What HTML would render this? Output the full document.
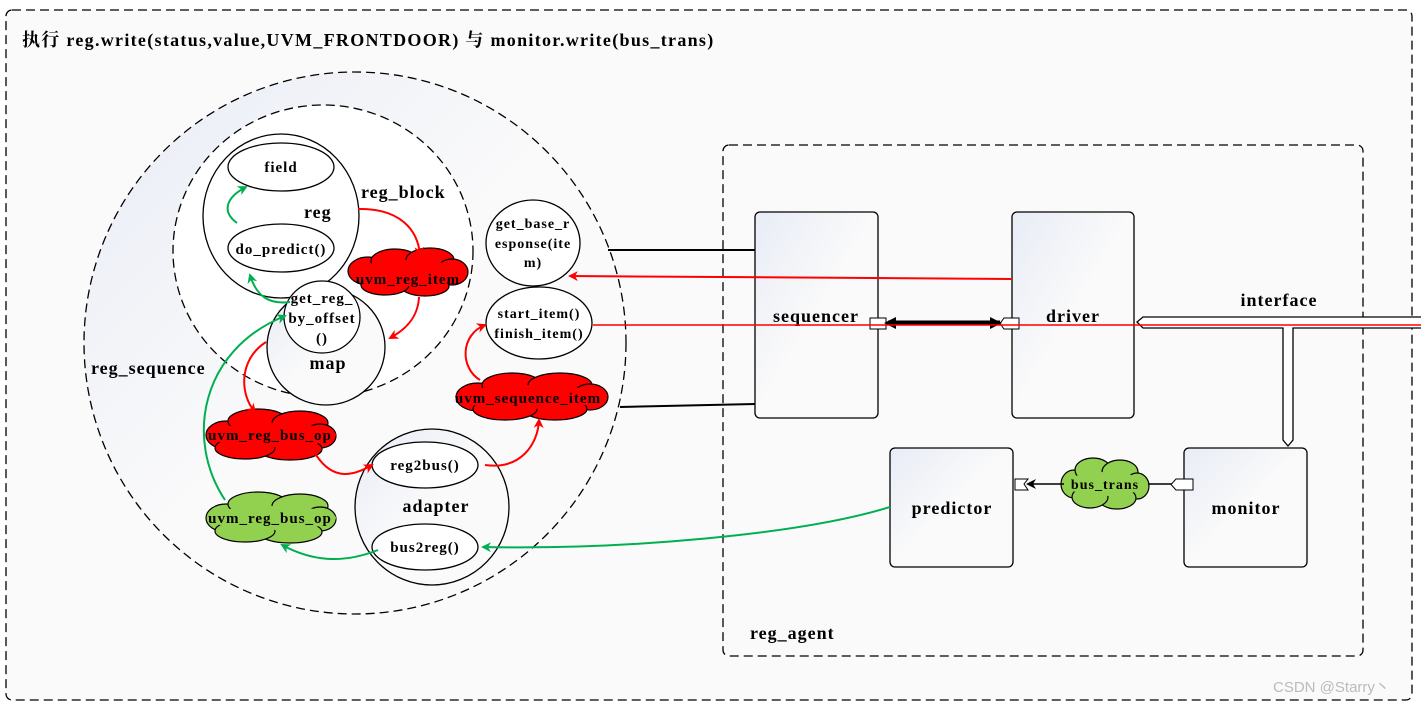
<!DOCTYPE html>
<html><head><meta charset="utf-8"><style>
html,body{margin:0;padding:0;background:#fff;}
svg{display:block;}
text{font-family:"Liberation Serif","Noto Serif CJK SC",serif;font-weight:bold;fill:#000;letter-spacing:1px;}
</style></head><body>
<svg width="1421" height="706" viewBox="0 0 1421 706" xmlns="http://www.w3.org/2000/svg">
<defs>
<linearGradient id="g" x1="0" y1="0" x2="1" y2="1"><stop offset="0" stop-color="#e8ecf6"/><stop offset="0.5" stop-color="#fafafa"/><stop offset="1" stop-color="#fafafa"/></linearGradient>
<marker id="ar" markerWidth="10" markerHeight="10" refX="8" refY="5" orient="auto" markerUnits="userSpaceOnUse"><path d="M0,0 L10,5 L0,10 L3,5 z" fill="#f00"/></marker>
<marker id="ag" markerWidth="10" markerHeight="10" refX="8" refY="5" orient="auto" markerUnits="userSpaceOnUse"><path d="M0,0 L10,5 L0,10 L3,5 z" fill="#00b050"/></marker>
<marker id="ak" markerWidth="10" markerHeight="10" refX="8" refY="5" orient="auto" markerUnits="userSpaceOnUse"><path d="M0,0 L10,5 L0,10 L3,5 z" fill="#000"/></marker>
</defs>
<rect x="6" y="10" width="1406" height="690" rx="6" fill="#fafafa" stroke="#000" stroke-width="1.3" stroke-dasharray="9,5"/>
<text x="22" y="46" font-size="18" style="letter-spacing:1.3px">执行 reg.write(status,value,UVM_FRONTDOOR) 与 monitor.write(bus_trans)</text>

<ellipse cx="355" cy="343" rx="271" ry="271" fill="url(#g)" stroke="#000" stroke-width="1.3" stroke-dasharray="9,5"/>
<text x="91" y="374" font-size="18">reg_sequence</text>
<ellipse cx="323" cy="251" rx="150" ry="146" fill="#fff" stroke="#000" stroke-width="1.3" stroke-dasharray="9,5"/>
<text x="361" y="198" font-size="18">reg_block</text>
<ellipse cx="281" cy="216" rx="78" ry="82" fill="#fff" stroke="#000" stroke-width="1.3"/>
<text x="304" y="218" font-size="18">reg</text>
<ellipse cx="281" cy="167" rx="53" ry="24" fill="#fff" stroke="#000" stroke-width="1.3"/>
<text x="281" y="172" font-size="15" text-anchor="middle">field</text>
<ellipse cx="281" cy="248" rx="53" ry="24" fill="#fff" stroke="#000" stroke-width="1.3"/>
<text x="281" y="254" font-size="15" text-anchor="middle">do_predict()</text>
<ellipse cx="326" cy="347" rx="59" ry="58" fill="url(#g)" stroke="#000" stroke-width="1.3"/>
<text x="328" y="369" font-size="18" text-anchor="middle">map</text>
<ellipse cx="322" cy="317" rx="38" ry="36" fill="#fff" stroke="#000" stroke-width="1.3"/>
<text x="322" y="303" font-size="15" text-anchor="middle">get_reg_</text>
<text x="322" y="323" font-size="15" text-anchor="middle">by_offset</text>
<text x="322" y="343" font-size="15" text-anchor="middle">()</text>

<ellipse cx="533" cy="243" rx="47" ry="43" fill="#fff" stroke="#000" stroke-width="1.3"/>
<text x="533" y="228" font-size="14" text-anchor="middle">get_base_r</text>
<text x="533" y="248" font-size="14" text-anchor="middle">esponse(ite</text>
<text x="533" y="267" font-size="14" text-anchor="middle">m)</text>
<ellipse cx="539" cy="323" rx="53" ry="36" fill="#fff" stroke="#000" stroke-width="1.3"/>
<text x="539" y="318" font-size="14" text-anchor="middle">start_item()</text>
<text x="539" y="338" font-size="14" text-anchor="middle">finish_item()</text>

<ellipse cx="432" cy="507" rx="77" ry="78" fill="url(#g)" stroke="#000" stroke-width="1.3"/>
<text x="436" y="512" font-size="18" text-anchor="middle">adapter</text>
<ellipse cx="425" cy="465" rx="53" ry="23" fill="#fff" stroke="#000" stroke-width="1.3"/>
<text x="425" y="470" font-size="15" text-anchor="middle">reg2bus()</text>
<ellipse cx="425" cy="547" rx="53" ry="23" fill="#fff" stroke="#000" stroke-width="1.3"/>
<text x="425" y="552" font-size="15" text-anchor="middle">bus2reg()</text>

<g stroke="#000" stroke-width="1.2">
<g fill="#f00">
<ellipse cx="368" cy="271" rx="20" ry="14"/><ellipse cx="395" cy="261" rx="24" ry="12"/><ellipse cx="430" cy="260" rx="24" ry="12"/><ellipse cx="452" cy="272" rx="16" ry="13"/><ellipse cx="425" cy="286" rx="24" ry="10"/><ellipse cx="385" cy="285" rx="24" ry="10"/>
<ellipse cx="408" cy="273" rx="56" ry="13" stroke="none"/>
</g>
<g fill="#f00">
<ellipse cx="478" cy="397" rx="22" ry="14"/><ellipse cx="512" cy="385" rx="30" ry="12"/><ellipse cx="560" cy="385" rx="32" ry="12"/><ellipse cx="590" cy="397" rx="18" ry="13"/><ellipse cx="555" cy="409" rx="32" ry="11"/><ellipse cx="505" cy="409" rx="32" ry="11"/>
<ellipse cx="530" cy="397" rx="74" ry="12" stroke="none"/>
</g>
<g fill="#f00">
<ellipse cx="226" cy="435" rx="20" ry="14"/><ellipse cx="258" cy="421" rx="30" ry="12"/><ellipse cx="300" cy="423" rx="28" ry="12"/><ellipse cx="320" cy="436" rx="16" ry="12"/><ellipse cx="290" cy="449" rx="32" ry="11"/><ellipse cx="245" cy="448" rx="30" ry="11"/>
<ellipse cx="272" cy="435" rx="64" ry="12" stroke="none"/>
</g>
<g fill="#92d050">
<ellipse cx="226" cy="518" rx="20" ry="14"/><ellipse cx="258" cy="504" rx="30" ry="12"/><ellipse cx="300" cy="506" rx="28" ry="12"/><ellipse cx="320" cy="519" rx="16" ry="12"/><ellipse cx="290" cy="532" rx="32" ry="11"/><ellipse cx="245" cy="531" rx="30" ry="11"/>
<ellipse cx="272" cy="518" rx="64" ry="12" stroke="none"/>
</g>
<g fill="#92d050">
<ellipse cx="1074" cy="484" rx="13" ry="14"/><ellipse cx="1093" cy="470" rx="18" ry="12"/><ellipse cx="1120" cy="472" rx="18" ry="12"/><ellipse cx="1137" cy="486" rx="12" ry="13"/><ellipse cx="1117" cy="498" rx="19" ry="11"/><ellipse cx="1090" cy="497" rx="18" ry="11"/>
<ellipse cx="1105" cy="484" rx="39" ry="12" stroke="none"/>
</g>
</g>
<text x="408" y="284" font-size="15" text-anchor="middle">uvm_reg_item</text>
<text x="528" y="403" font-size="15" text-anchor="middle">uvm_sequence_item</text>
<text x="270" y="440" font-size="15" text-anchor="middle">uvm_reg_bus_op</text>
<text x="270" y="523" font-size="15" text-anchor="middle">uvm_reg_bus_op</text>
<text x="1105" y="489" font-size="14" text-anchor="middle">bus_trans</text>

<g fill="none" stroke-width="2">
<path d="M358,209 C400,208 418,230 420,255" stroke="#f00" marker-end="url(#ar)"/>
<path d="M419,297 C418,318 405,330 390,338" stroke="#f00" marker-end="url(#ar)"/>
<path d="M266,342 C238,360 240,395 255,412" stroke="#f00" marker-end="url(#ar)"/>
<path d="M313,450 C330,480 350,478 372,465" stroke="#f00" marker-end="url(#ar)"/>
<path d="M485,465 C520,470 538,445 539,420" stroke="#f00" marker-end="url(#ar)"/>
<path d="M480,380 C460,368 460,335 485,325" stroke="#f00" marker-end="url(#ar)"/>
<path d="M237,223 C222,212 225,198 246,187" stroke="#00b050" marker-end="url(#ag)"/>
<path d="M290,302 C268,305 256,295 250,275" stroke="#00b050" marker-end="url(#ag)"/>
<path d="M225,500 C185,440 200,350 285,316" stroke="#00b050" marker-end="url(#ag)"/>
<path d="M378,550 C340,565 310,560 282,545" stroke="#00b050" marker-end="url(#ag)"/>
</g>

<rect x="723" y="145" width="640" height="511" rx="6" fill="none" stroke="#000" stroke-width="1.3" stroke-dasharray="9,5"/>
<text x="750" y="639" font-size="18">reg_agent</text>
<line x1="608" y1="250" x2="755" y2="250" stroke="#000" stroke-width="2"/>
<line x1="620" y1="407" x2="755" y2="404" stroke="#000" stroke-width="2"/>
<rect x="755" y="212" width="123" height="206" rx="5" fill="url(#g)" stroke="#000" stroke-width="1.3"/>
<text x="816" y="322" font-size="18" text-anchor="middle">sequencer</text>
<rect x="1012" y="212" width="122" height="206" rx="5" fill="url(#g)" stroke="#000" stroke-width="1.3"/>
<text x="1073" y="322" font-size="18" text-anchor="middle">driver</text>
<rect x="890" y="448" width="123" height="119" rx="5" fill="url(#g)" stroke="#000" stroke-width="1.3"/>
<text x="952" y="514" font-size="18" text-anchor="middle">predictor</text>
<rect x="1184" y="448" width="123" height="119" rx="5" fill="url(#g)" stroke="#000" stroke-width="1.3"/>
<text x="1246" y="514" font-size="18" text-anchor="middle">monitor</text>
<text x="1279" y="306" font-size="18" text-anchor="middle">interface</text>

<path d="M1421,317 L1143,317 L1137,322 L1143,328 L1283,328 L1283,440 L1288,446 L1293,440 L1293,328 L1421,328" fill="#fff" stroke="#000" stroke-width="1.3"/>
<rect x="870" y="318" width="16" height="11" fill="#fff" stroke="#000"/>
<path d="M1004,318 L1019,318 L1019,329 L1004,329 L1000,323.5 z" fill="#fff" stroke="#000"/>
<line x1="888" y1="323" x2="1000" y2="323" stroke="#000" stroke-width="5"/>
<path d="M884,323 L896,317 L896,329 z M1002,323 L990,317 L990,329 z" fill="#000"/>
<line x1="593" y1="325" x2="1421" y2="325" stroke="#f00" stroke-width="1.6"/>
<line x1="1012" y1="279" x2="570" y2="276" stroke="#f00" stroke-width="2" marker-end="url(#ar)"/>
<path d="M1015,479 L1028,479 L1024,484 L1028,490 L1015,490 z" fill="#fff" stroke="#000"/>
<line x1="1064" y1="484" x2="1028" y2="484" stroke="#000" stroke-width="1.5" marker-end="url(#ak)"/>
<line x1="1148" y1="484" x2="1172" y2="484" stroke="#000" stroke-width="1.5"/>
<path d="M1176,479 L1193,479 L1193,490 L1176,490 L1171,484.5 z" fill="#fff" stroke="#000"/>
<path d="M890,507 C800,535 620,550 483,547" fill="none" stroke="#00b050" stroke-width="2" marker-end="url(#ag)"/>
<text x="1273" y="692" font-size="15" style="font-family:'Liberation Sans',sans-serif;font-weight:normal;fill:#bbb;letter-spacing:0">CSDN @Starry丶</text>
</svg>
</body></html>
